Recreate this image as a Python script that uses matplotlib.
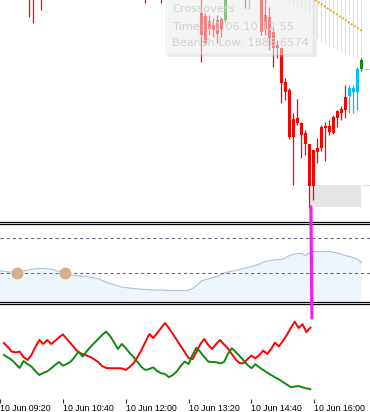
import matplotlib
matplotlib.use("Agg")
import matplotlib.pyplot as plt
from matplotlib import rcParams
from matplotlib.patches import Rectangle, ConnectionPatch

rcParams.update({"font.family": "DejaVu Sans"})

# 5-minute bars, bar 0 = 10 Jun 09:20
candle_bar = [9, 10, 12, 38, 42, 52, 53, 54, 55, 56, 57, 58, 63, 64, 67, 68, 69, 70,
              71, 72, 73, 74, 75, 76, 77, 78, 79, 80, 81, 82, 83, 84, 85, 86, 87, 88,
              89, 90, 91, 92]
candle_open = [1901.6, 1901.6, 1901.6, 1901.6, 1901.6, 1897.4, 1896.8, 1895.8, 1895.0,
               1896.0, 1896.2, 1896.0, 1901.6, 1900.6, 1901.0, 1897.0, 1896.6, 1893.6,
               1891.0, 1890.4, 1883.6, 1882.0, 1876.2, 1876.4, 1875.4, 1873.4, 1871.2,
               1870.0, 1870.4, 1870.4, 1874.4, 1873.6, 1873.4, 1876.4, 1877.4, 1878.0,
               1880.8, 1881.6, 1881.6, 1886.2]
candle_high = [1902.4, 1902.4, 1902.4, 1902.4, 1902.4, 1901.0, 1897.4, 1897.0, 1896.4,
               1897.0, 1896.6, 1901.6, 1902.4, 1902.4, 1901.6, 1901.0, 1898.6, 1894.6,
               1892.0, 1890.6, 1884.4, 1882.4, 1877.4, 1880.2, 1875.6, 1874.0, 1871.2,
               1870.0, 1872.4, 1875.0, 1875.6, 1876.0, 1877.0, 1878.0, 1878.8, 1883.0,
               1883.0, 1883.0, 1886.6, 1888.4]
candle_low = [1896.6, 1895.4, 1898.0, 1899.4, 1899.4, 1887.6, 1891.0, 1893.0, 1892.6,
              1891.4, 1892.6, 1895.6, 1898.4, 1898.2, 1893.0, 1893.0, 1890.0, 1886.6,
              1888.4, 1879.4, 1880.0, 1872.2, 1863.0, 1875.0, 1868.4, 1869.0, 1858.4,
              1860.0, 1867.4, 1869.8, 1867.8, 1873.0, 1873.2, 1874.6, 1876.0, 1876.4,
              1877.4, 1877.4, 1878.0, 1885.8]
candle_close = [1900.6, 1900.6, 1900.6, 1900.6, 1900.6, 1893.0, 1891.4, 1894.2, 1894.0,
                1893.2, 1894.2, 1901.0, 1900.6, 1901.6, 1893.6, 1894.0, 1892.4, 1890.4,
                1890.4, 1883.4, 1881.6, 1872.6, 1872.6, 1875.4, 1873.0, 1871.2, 1862.8,
                1862.8, 1869.6, 1874.6, 1874.8, 1874.8, 1876.6, 1877.8, 1878.2, 1880.6,
                1882.4, 1882.4, 1886.2, 1888.0]
candle_kind = ["r"] * 11 + ["g", "r", "c"] + ["r"] * 22 + ["c", "c", "c", "g"]

# faint histogram hanging from the top edge
hang_bar = list(range(74, 93))
hang_low = [1899.4, 1899.0, 1898.6, 1898.2, 1897.8, 1897.2, 1893.4, 1892.4, 1891.6,
            1891.2, 1890.8, 1890.4, 1890.0, 1889.6, 1889.2, 1889.0, 1888.6, 1888.4, 1888.0]

# dotted trend line
trend_bar = [80.4, 92.2]
trend_price = [1900.0, 1893.8]

# zone box and price lines
zone_bar = (79.2, 91.9)
zone_price = (1858.6, 1863.0)
bid_price = 1886.2
marker_bar = 79.4

# oscillator (middle panel)
osc_bar = [1, 2, 4, 6, 8, 10, 12, 14, 15, 16, 18, 20, 22, 24, 26, 27, 28, 30, 32, 34,
           36, 38, 40, 42, 44, 46, 48, 49, 50, 51, 52, 54, 56, 58, 60, 62, 64, 66, 68,
           70, 72, 73, 74, 76, 77, 78, 79, 80, 82, 84, 86, 88, 90, 91, 92]
osc_val = [32.6, 32.6, 31.5, 30.9, 33.2, 34.9, 35.5, 34.9, 34.3, 32.6, 29.8, 27.5,
           26.9, 25.8, 24.1, 22.3, 20.1, 17.2, 14.3, 13.2, 12.1, 11.5, 10.9, 10.9, 10.3,
           10.3, 10.3, 10.9, 13.2, 16.6, 21.2, 24.1, 26.3, 30.9, 32.6, 34.9, 37.2, 39.5,
           43.5, 45.2, 45.8, 47.5, 50.3, 52.6, 52.6, 50.3, 53.2, 54.9, 54.9, 54.9, 53.2,
           50.3, 48.1, 46.3, 42.3]
osc_levels = [70, 30]
cross_bar = [6, 18]
cross_val = [30, 30]

# lower panel lines
line_bar = list(range(1, 80))
red_val = [28, 26, 23.7, 23.3, 23.7, 21, 19.5, 22, 26, 29.5, 27.5, 29.5, 27.5, 29, 30.8,
           32.3, 30, 27.8, 25.5, 23.3, 22.5, 21.8, 21, 19.8, 18.5, 16.5, 15.5, 15.4, 15.4,
           15.4, 15.3, 14.5, 16, 17.8, 21, 24.5, 28.5, 32.5, 30.5, 33, 35.5, 38, 35.5,
           32.5, 29.5, 26.5, 23.5, 20.5, 19.9, 23.5, 27.5, 30, 27, 25, 27.5, 29.5, 27.3,
           25.3, 22.5, 19.8, 17.9, 17.9, 20, 21.7, 20.3, 22, 24.2, 22.5, 25, 28.2, 26.3,
           29, 32, 35.5, 38.7, 35.5, 37.4, 33.5, 35.7]
green_val = [22, 20.8, 19.5, 17.5, 15.5, 19, 17.5, 16.2, 14, 12, 13, 13.8, 15.3, 17,
             18.5, 16.7, 17.5, 18.7, 21, 23.7, 21.2, 23.7, 26, 28, 30, 32, 33.7, 31.5,
             28.5, 25, 27.5, 25.5, 23, 21, 18.5, 16, 14.5, 15, 15.8, 14, 12.9, 12.5, 10.9,
             12, 13.8, 16.5, 18.7, 17.5, 22, 25.7, 23.5, 21, 18.7, 18.5, 18.4, 17.8, 18.4,
             22.5, 25.4, 23.5, 21.5, 19.3, 17, 15.4, 17.4, 15.8, 14.5, 13.2, 12, 10.8, 9.8,
             8.5, 7.25, 5.9, 6.2, 6.5, 5.8, 5.3, 4.9]
magenta_top = 40.5

tick_bar = [0, 16, 32, 48, 64, 80]
tick_text = ["10 Jun 09:20", "10 Jun 10:40", "10 Jun 12:00", "10 Jun 13:20",
             "10 Jun 14:40", "10 Jun 16:00"]

colors = {"r": "#ff0000", "c": "#00bfff", "g": "#128a12"}
xlim = (1.675, 94.175)

fig = plt.figure(figsize=(3.7, 4.12), dpi=100)
ax1 = fig.add_axes([0, 1 - 221.5 / 412, 1, 221.5 / 412])
ax2 = fig.add_axes([0, 1 - 302 / 412, 1, 78.5 / 412])
ax3 = fig.add_axes([0, 1 - 399 / 412, 1, 95 / 412])

for ax in (ax1, ax2, ax3):
    ax.set_xlim(*xlim)
    ax.set_yticks([])
    for s in ax.spines.values():
        s.set_visible(False)
        s.set_color("black")
        s.set_linewidth(0.9)

ax1.spines["bottom"].set_visible(True)
ax2.spines["top"].set_visible(True)
ax2.spines["bottom"].set_visible(True)
ax3.spines["top"].set_visible(True)
ax1.set_xticks([])
ax2.set_xticks([])

# --- main price panel ---
ax1.set_ylim(1855.7, 1900)
ax1.vlines(hang_bar, hang_low, 1905, color="#e2e2e2", lw=0.8, zorder=1)
ax1.plot(trend_bar, trend_price, color="#daa520", lw=1.3, ls=(0, (1, 1)), zorder=2)

for b, o, h, l, c, k in zip(candle_bar, candle_open, candle_high, candle_low,
                            candle_close, candle_kind):
    col = colors[k]
    ax1.vlines(b, l, h, color=col, lw=0.9, zorder=3)
    ax1.bar(b, abs(c - o), bottom=min(o, c), width=0.75, color=col, lw=0, zorder=4)

ax1.add_patch(Rectangle((zone_bar[0], zone_price[0]), zone_bar[1] - zone_bar[0],
                        zone_price[1] - zone_price[0], color="#e5e5e5", lw=0, zorder=1))
ax1.hlines(zone_price[1], 92.3, 95, color="#dddddd", lw=0.8)
ax1.hlines(bid_price, 92.3, 95, color="#cccccc", lw=0.8)

# tooltip
fig.patches.append(Rectangle((168 / 370, 1 - 57 / 412), 149 / 370, 60 / 412,
                             transform=fig.transFigure, facecolor="#bbbbbb",
                             alpha=0.25, lw=0, zorder=5))
fig.patches.append(Rectangle((166 / 370, 1 - 53.5 / 412), 147 / 370, 58 / 412,
                             transform=fig.transFigure, facecolor="white",
                             edgecolor="#d8d8d8", alpha=0.4, lw=1, zorder=6))
for yy, txt in [(9.5, "Crossovers"), (26.5, "Time: 21.06.10 12:55"),
                (43.5, "Bearish Low: 1886.6574")]:
    fig.text(172 / 370, 1 - yy / 412, txt, color="#d0d0d0", fontsize=8.2,
             va="center", ha="left", zorder=7)

# --- oscillator panel ---
ax2.set_ylim(-2.8, 86.9)
ax2.fill_between(osc_bar, osc_val, -5, color="#eef6fd", lw=0, zorder=1)
ax2.plot(osc_bar, osc_val, color="#a9c1dd", lw=0.8, zorder=2)
for lv in osc_levels:
    ax2.axhline(lv, color="#6c6c88", lw=0.8, ls=(0, (3, 2.5)), zorder=3)
ax2.plot(cross_bar, cross_val, "o", ms=8.6, color="#d4b08a", mec="none", zorder=4)

# --- lower panel ---
ax3.set_ylim(0, 47.5)
ax3.plot(line_bar, red_val, color="#ff0000", lw=1.4)
ax3.plot(line_bar, green_val, color="#118811", lw=1.4)
ax3.set_xticks(tick_bar)
ax3.set_xticklabels([])
ax3.tick_params(axis="x", length=2.9, width=0.8, color="#333333", direction="out")
for b, txt in zip(tick_bar, tick_text):
    ax3.text(b, -0.057, txt, transform=ax3.get_xaxis_transform(), ha="left", va="top",
             fontsize=6.3, family="Liberation Sans", clip_on=False)

# magenta marker spanning all panels
con = ConnectionPatch(xyA=(marker_bar, zone_price[0]), coordsA="data", axesA=ax1,
                      xyB=(marker_bar, magenta_top), coordsB="data", axesB=ax3,
                      color="#f020f0", lw=2.3, zorder=10)
fig.add_artist(con)

fig.savefig("out.png", dpi=100)
